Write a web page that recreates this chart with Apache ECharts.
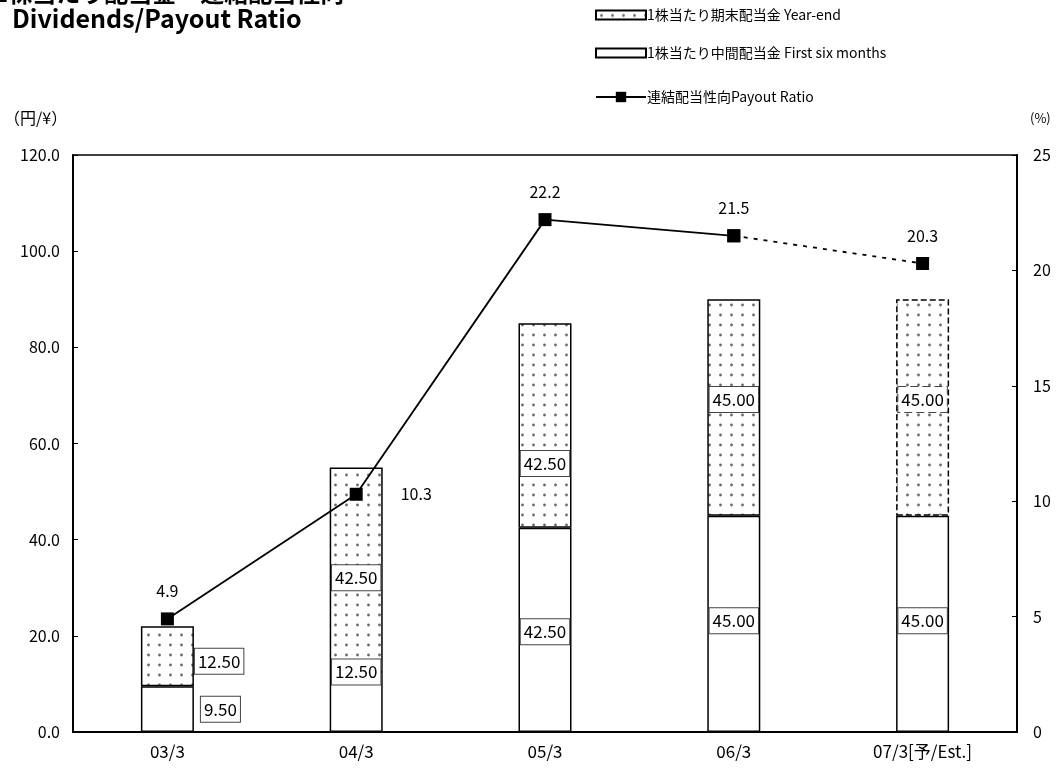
<!DOCTYPE html>
<html><head><meta charset="utf-8">
<script src="https://cdn.jsdelivr.net/npm/echarts@6/dist/echarts.min.js"></script>
<style>html,body{margin:0;padding:0;background:#fff}#c{width:1062px;height:769px}</style>
</head><body><div id="c"></div>
<script>
const categories = ['03/3', '04/3', '05/3', '06/3', '07/3[予/Est.]'];
const interimValues = [9.5, 12.5, 42.5, 45.0, 45.0];
const yearEndValues = [12.5, 42.5, 42.5, 45.0, 45.0];
const payoutRatio = [4.9, 10.3, 22.2, 21.5, 20.3];
const leftTicks = {min: 0, max: 120, interval: 20};
const rightTicks = {min: 0, max: 25, interval: 5};

const NAME_YE = '1株当たり期末配当金 Year-end';
const NAME_IN = '1株当たり中間配当金 First six months';
const NAME_PR = '連結配当性向Payout Ratio';
const FONT = '"Noto Sans CJK JP", sans-serif';

function makeDots() {
  const c = document.createElement('canvas');
  c.width = 11; c.height = 10;
  const g = c.getContext('2d');
  g.fillStyle = '#fff'; g.fillRect(0, 0, 11, 10);
  g.fillStyle = '#6a6a6a';
  g.beginPath(); g.arc(5.5, 5, 1.4, 0, Math.PI * 2); g.fill();
  return c;
}
const dots = {image: makeDots(), repeat: 'repeat'};

const boxLabel = {
  show: true, color: '#000', fontSize: 17, fontFamily: FONT,
  backgroundColor: '#fff', borderColor: '#444', borderWidth: 1,
  padding: [5, 3, 3, 3],
  formatter: p => Number(p.value).toFixed(2)
};

// per-item label placement tweaks (placement only)
const inLabelPos = [
  {position: 'right', distance: 7, offset: [0, 0]},
  {position: 'inside', offset: [0, -30]},
  {position: 'inside', offset: [0, 2]},
  {position: 'inside', offset: [0, -3]},
  {position: 'inside', offset: [0, -3]}
];
const yeLabelPos = [
  {position: 'right', distance: 1, offset: [0, 5]},
  {position: 'inside', offset: [0, 8]},
  {position: 'inside', offset: [0, 38]},
  {position: 'inside', offset: [0, -8]},
  {position: 'inside', offset: [0, -8], borderType: 'dashed'}
];

const interimData = interimValues.map((v, i) => ({value: v, label: inLabelPos[i]}));
const yearEndData = yearEndValues.map((v, i) => {
  const d = {value: v, label: yeLabelPos[i]};
  if (i === yearEndValues.length - 1) d.itemStyle = {borderType: 'dashed', borderColor: '#000'};
  return d;
});

const solidLine = payoutRatio.map((v, i) => i <= 3 ? v : '-');
const dashedLine = payoutRatio.map((v, i) => i >= 3 ? v : '-');
const lineLabelPos = ['top', 'right', 'top', 'top', 'top'];
const solidData = solidLine.map((v, i) => v === '-' ? v : {value: v, label: {position: lineLabelPos[i], distance: i === 1 ? 38 : 13}});
const dashedData = dashedLine.map((v, i) => v === '-' ? v : {value: v, label: {show: i === 4, position: 'top', distance: 13}});

const chart = echarts.init(document.getElementById('c'), null, {renderer: 'canvas'});
chart.setOption({
  animation: false,
  textStyle: {fontFamily: FONT},
  grid: {left: 73, right: 45, top: 155, bottom: 37, show: true, borderColor: '#000', borderWidth: 1.5, backgroundColor: 'transparent'},
  graphic: [
    {type: 'text', left: -6, top: -19, style: {text: '1株当たり配当金・連結配当性向', font: 'bold 24px ' + FONT, fill: '#000'}},
    {type: 'text', left: 12, top: 6, style: {text: 'Dividends/Payout Ratio', font: 'bold 25px ' + FONT, fill: '#000'}},
    {type: 'text', left: 4, top: 110, style: {text: '（円/¥）', font: '16px ' + FONT, fill: '#000'}},
    {type: 'text', left: 1030, top: 112, style: {text: '(%)', font: '13px ' + FONT, fill: '#000'}}
  ],
  legend: [
    {data: [NAME_YE], left: 590, top: 3, itemWidth: 50, itemHeight: 9, icon: 'rect', itemGap: 2, textStyle: {fontSize: 14, fontFamily: FONT, color: '#000', padding: [0, 0, 0, -4]}},
    {data: [NAME_IN], left: 590, top: 41, itemWidth: 50, itemHeight: 9, icon: 'rect', textStyle: {fontSize: 14, fontFamily: FONT, color: '#000', padding: [0, 0, 0, -4]}},
    {data: [NAME_PR], left: 590, top: 85, itemWidth: 50, itemHeight: 13, textStyle: {fontSize: 14, fontFamily: FONT, color: '#000', padding: [0, 0, 0, -4]}}
  ],
  xAxis: {
    type: 'category', data: categories, boundaryGap: true,
    axisLine: {lineStyle: {color: '#000', width: 2}},
    axisTick: {inside: true, length: 6, lineStyle: {color: '#000'}},
    axisLabel: {color: '#000', fontSize: 17, margin: 11, fontFamily: FONT}
  },
  yAxis: [
    {type: 'value', min: leftTicks.min, max: leftTicks.max, interval: leftTicks.interval,
     axisLine: {show: true, lineStyle: {color: '#000', width: 2}},
     axisTick: {show: true, inside: true, length: 5, lineStyle: {color: '#000'}},
     splitLine: {show: false},
     axisLabel: {color: '#000', fontSize: 16, margin: 13, formatter: v => v.toFixed(1), fontFamily: FONT}},
    {type: 'value', min: rightTicks.min, max: rightTicks.max, interval: rightTicks.interval, position: 'right',
     axisLine: {show: true, lineStyle: {color: '#000', width: 2}},
     axisTick: {show: true, inside: true, length: 5, lineStyle: {color: '#000'}},
     splitLine: {show: false},
     axisLabel: {color: '#000', fontSize: 16, margin: 16, fontFamily: FONT}}
  ],
  series: [
    {name: NAME_IN, type: 'bar', stack: 'div', barWidth: 53, data: interimData,
     itemStyle: {color: '#fff', borderColor: '#000', borderWidth: 1.5},
     label: boxLabel, z: 2},
    {name: NAME_YE, type: 'bar', stack: 'div', barWidth: 53, data: yearEndData,
     itemStyle: {color: dots, borderColor: '#000', borderWidth: 1.5},
     label: boxLabel, z: 2},
    {name: NAME_PR, type: 'line', yAxisIndex: 1, data: solidData,
     symbol: 'rect', symbolSize: 13, itemStyle: {color: '#000'},
     lineStyle: {color: '#000', width: 1.8},
     label: {show: true, color: '#000', fontSize: 16, fontFamily: FONT, formatter: p => Number(p.value).toFixed(1)}, z: 5},
    {name: 'dashedPR', type: 'line', yAxisIndex: 1, data: dashedData,
     symbol: 'rect', symbolSize: 13, itemStyle: {color: '#000'},
     lineStyle: {color: '#000', width: 1.8, type: [4, 6]},
     label: {color: '#000', fontSize: 16, fontFamily: FONT, formatter: p => Number(p.value).toFixed(1)}, z: 5}
  ]
});
</script></body></html>
